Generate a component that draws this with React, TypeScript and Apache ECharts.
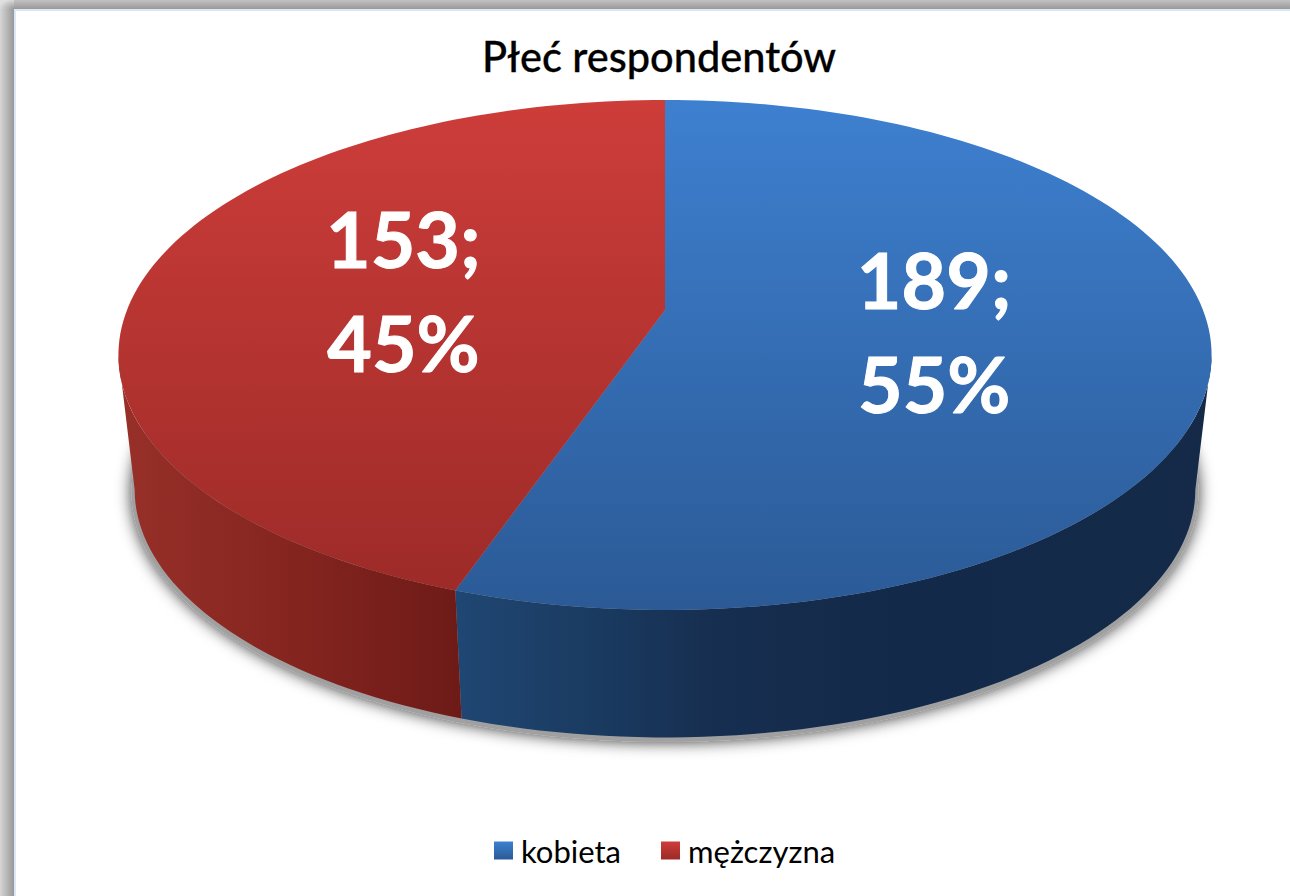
import React, { useEffect, useRef } from "react";
import * as echarts from "echarts";

const titleText = "Płeć respondentów";
const categories = ["kobieta", "mężczyzna"];
const values = [189, 153];
const total = values.reduce((a, b) => a + b, 0);

const K = 0.1765;
const TOP = { cx: 665, cy: 310, a: 247, b: 538 };
const BOTTOM = { cx: 665, cy: 446, a: 240, b: 522 };
const SHADOW = { cx: 665, cy: 448, a: 242, b: 525 };
const SIDE_LIMIT = 100.2;

const pt = (d: any, deg: number, r = 1): number[] => {
  const t = (deg * Math.PI) / 180;
  const u = Math.sin(t) * r;
  const v = Math.cos(t) * r;
  const w = 1 + K * v;
  return [d.cx + (d.b * u) / w, d.cy - (d.a * v) / w];
};

const arc = (d: any, from: number, to: number): number[][] => {
  const n = Math.max(2, Math.ceil(Math.abs(to - from) / 1.5));
  const out: number[][] = [];
  for (let i = 0; i <= n; i++) out.push(pt(d, from + ((to - from) * i) / n));
  return out;
};

const vGrad = (a: string, b: string) => ({
  type: "linear", x: 0, y: 100, x2: 0, y2: 610, global: true,
  colorStops: [{ offset: 0, color: a }, { offset: 1, color: b }],
});
const hGrad = (stops: [number, string][]) => ({
  type: "linear", x: 118, y: 0, x2: 1212, y2: 0, global: true,
  colorStops: stops.map(([x, color]) => ({ offset: (x - 118) / 1094, color })),
});

const topFill = [vGrad("#3e80d0", "#2b5a96"), vGrad("#cd3d3a", "#9b2a27")];
const sideFill = [
  hGrad([[456, "#1f4773"], [600, "#1a3a60"], [720, "#162e4f"], [900, "#13294a"], [1212, "#142a48"]]),
  hGrad([[118, "#973029"], [300, "#84241f"], [456, "#6e1b18"]]),
];
const legendFill = [
  { type: "linear", x: 0, y: 0, x2: 0, y2: 1, colorStops: [{ offset: 0, color: "#3e80d0" }, { offset: 1, color: "#2b5a96" }] },
  { type: "linear", x: 0, y: 0, x2: 0, y2: 1, colorStops: [{ offset: 0, color: "#cd3d3a" }, { offset: 1, color: "#9b2a27" }] },
];

const startAngle = (i: number) =>
  (values.slice(0, i).reduce((a, b) => a + b, 0) / total) * 360;

const makeSeries = (i: number) => ({
  type: "custom",
  name: categories[i],
  coordinateSystem: "none",
  silent: true,
  data: [values[i]],
  renderItem: (_p: any, api: any) => {
    const v = api.value(0) as number;
    const a0 = startAngle(i);
    const a1 = a0 + (v / total) * 360;
    const sideFrom = Math.max(a0, SIDE_LIMIT);
    const sideTo = Math.min(a1, 360 - SIDE_LIMIT);
    const children: any[] = [];
    if (i === 0) {
      children.push({
        type: "polygon",
        shape: { points: arc(SHADOW, 0, 360) },
        style: { fill: "#a0a0a0", shadowBlur: 16, shadowColor: "rgba(0,0,0,0.8)" },
      });
    }
    children.push({
      type: "polygon",
      shape: { points: [...arc(TOP, sideFrom, sideTo), ...arc(BOTTOM, sideTo, sideFrom)] },
      style: { fill: sideFill[i] },
    });
    children.push({
      type: "polygon",
      shape: { points: [[TOP.cx, TOP.cy], ...arc(TOP, a0, a1)] },
      style: { fill: topFill[i] },
    });
    const c = pt(TOP, (a0 + a1) / 2, 0.5);
    children.push({
      type: "text",
      style: {
        text: `${v};\n${Math.round((v / total) * 100)}%`,
        x: c[0],
        y: c[1],
        align: "center",
        verticalAlign: "middle",
        fill: "#ffffff",
        stroke: "#ffffff",
        lineWidth: 1,
        fontFamily: "Lato",
        fontWeight: "bold",
        fontSize: 77,
        lineHeight: 104,
      },
    });
    return { type: "group", children };
  },
});

const grayV = (a: string, b: string) => ({
  type: "linear", x: 0, y: 0, x2: 0, y2: 1,
  colorStops: [{ offset: 0, color: a }, { offset: 1, color: b }],
});
const grayH = (a: string, b: string) => ({
  type: "linear", x: 0, y: 0, x2: 1, y2: 0,
  colorStops: [{ offset: 0, color: a }, { offset: 1, color: b }],
});

export default function App() {
  const ref = useRef<HTMLDivElement>(null);
  useEffect(() => {
    document.body.style.margin = "0";
    document.body.style.overflow = "hidden";
    const chart = echarts.init(ref.current!, undefined, { renderer: "svg" });
    chart.setOption({
      animation: false,
      backgroundColor: "#ffffff",
      title: {
        text: titleText,
        left: 477,
        top: 30,
        textStyle: {
          fontFamily: "Lato",
          fontWeight: 500,
          fontSize: 41.5,
          color: "#000",
          textBorderColor: "#000",
          textBorderWidth: 0.3,
        },
      },
      legend: {
        data: categories.map((name, i) => ({ name, icon: "rect", itemStyle: { color: legendFill[i] } })),
        left: 489,
        top: 830,
        orient: "horizontal",
        itemWidth: 19,
        itemHeight: 18,
        itemGap: 40,
        textStyle: { fontFamily: "Lato", fontSize: 31, color: "#000", padding: [0, 0, 0, 3] },
      },
      graphic: [
        { type: "rect", z: -10, shape: { x: 0, y: 9, width: 14, height: 887 }, style: { fill: grayH("#d6d6d6", "#989898") } },
        { type: "rect", z: -10, shape: { x: 14, y: 0, width: 1276, height: 9 }, style: { fill: grayV("#c2c2c2", "#999999") } },
        {
          type: "rect",
          z: -10,
          shape: { x: 0, y: 0, width: 14, height: 9 },
          style: {
            fill: {
              type: "radial", x: 1, y: 1, r: 1.1,
              colorStops: [{ offset: 0, color: "#999999" }, { offset: 1, color: "#e0e0e0" }],
            },
          },
        },
        { type: "rect", z: -10, shape: { x: 14, y: 9, width: 2, height: 887 }, style: { fill: "#dbe6f6" } },
        { type: "rect", z: -10, shape: { x: 14, y: 9, width: 1276, height: 2 }, style: { fill: "#dbe6f6" } },
      ],
      series: values.map((_, i) => makeSeries(i)),
    });
    return () => chart.dispose();
  }, []);
  return <div ref={ref} style={{ width: 1290, height: 896 }} />;
}
